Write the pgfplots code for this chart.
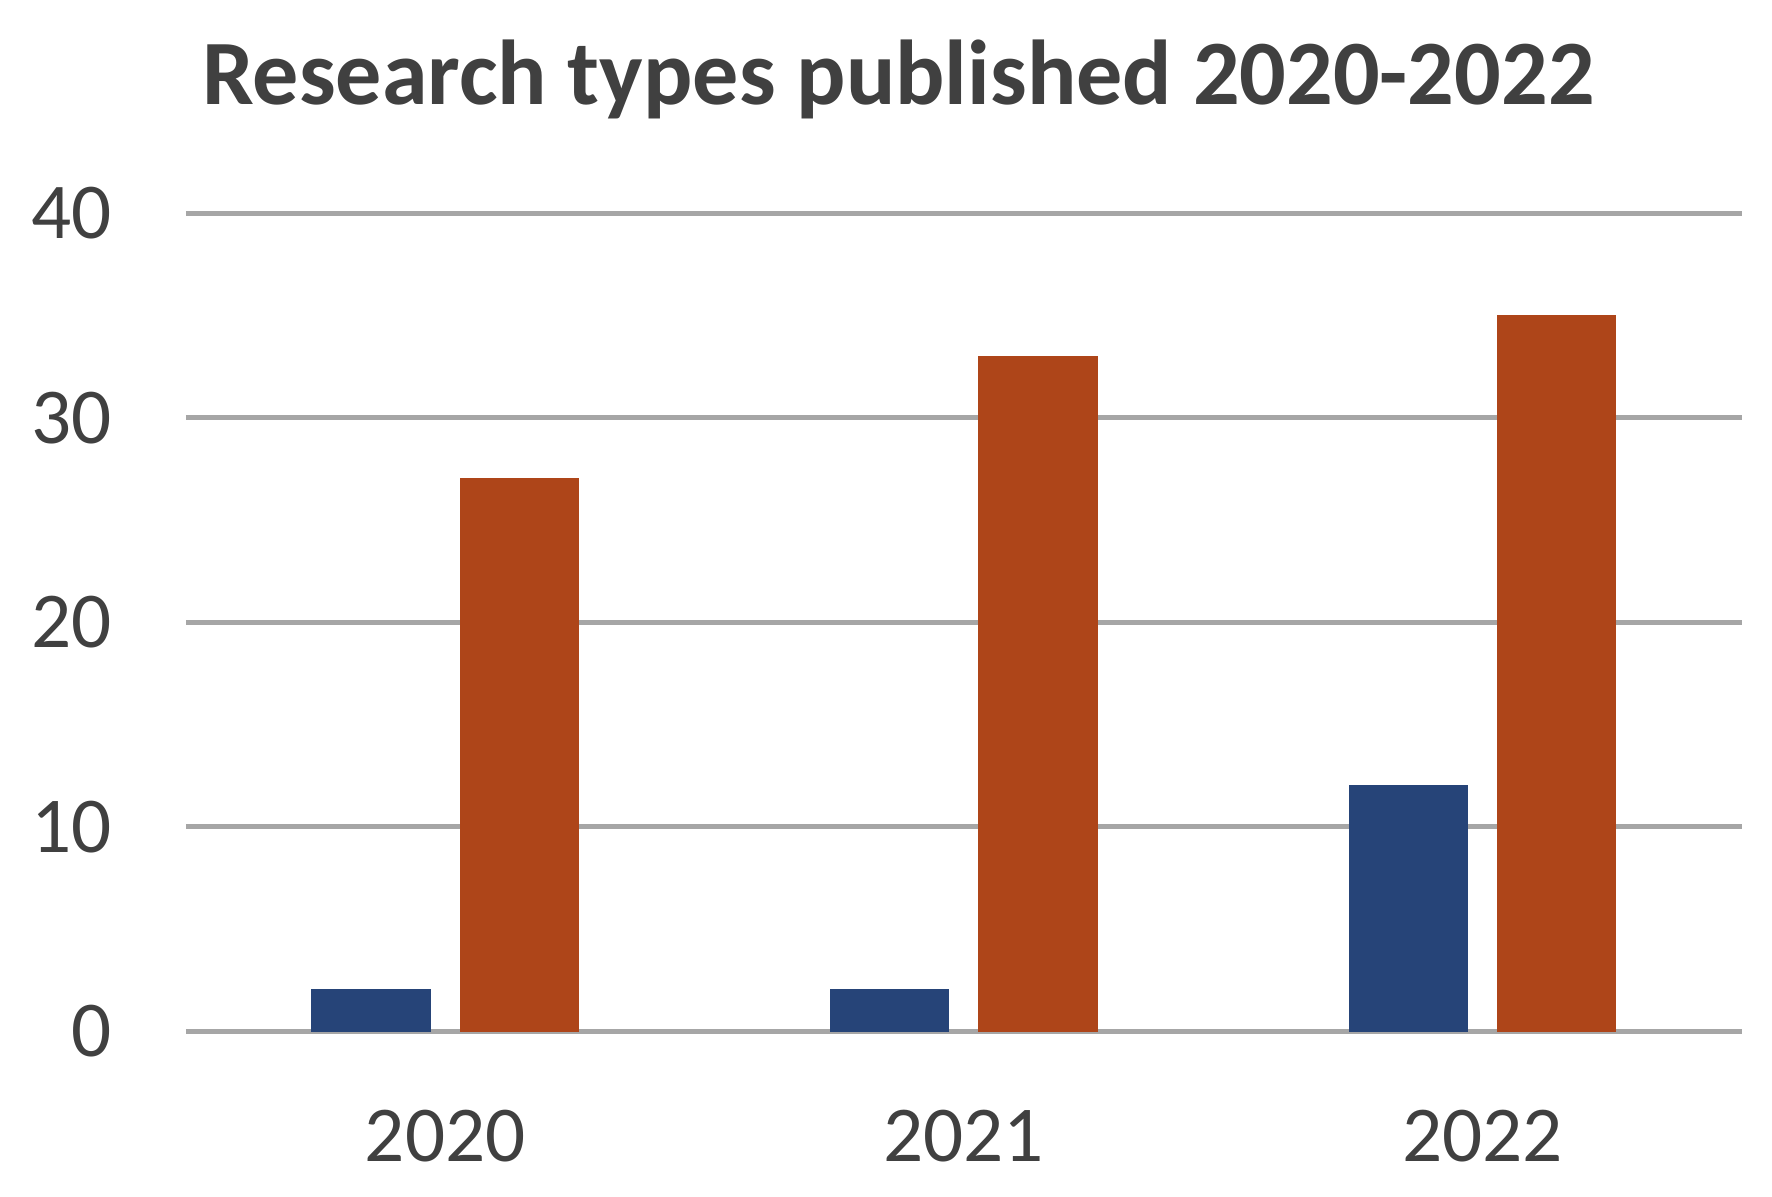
\documentclass[border=0pt]{standalone}
\usepackage{pgfplots}
\pgfplotsset{compat=1.18}
\usepackage{fontspec}
\setmainfont{Carlito}
\definecolor{barblue}{HTML}{264478}
\definecolor{barorange}{HTML}{AE4519}
\definecolor{txtgray}{HTML}{404040}
\definecolor{gridgray}{HTML}{A6A6A6}
\begin{document}
\begin{tikzpicture}
\path[use as bounding box] (0,0) rectangle (425.28pt,287.04pt);
\begin{axis}[
  at={(44.6pt,39.6pt)}, anchor=south west,
  scale only axis, width=373.4pt, height=196.2pt,
  ymin=0, ymax=40, xmin=-0.5, xmax=2.5,
  axis line style={draw=none},
  ytick={0,10,20,30,40},
  xtick={0,1,2}, xticklabels={2020,2021,2022},
  major tick length=0pt,
  ymajorgrids, major grid style={color=gridgray, line width=1.2pt},
  /pgf/number format/assume math mode=true,
  tick label style={font=\fontsize{19}{21}\selectfont, text=txtgray},
  yticklabel style={anchor=east, inner sep=0pt, xshift=-17.6pt},
  xticklabel style={anchor=base, inner sep=0pt, yshift=-31.2pt},
  ybar, bar width=0.227,
]
\addplot[fill=barblue, draw=barblue, bar shift=-0.143] coordinates {(0,2) (1,2) (2,12)};
\addplot[fill=barorange, draw=barorange, bar shift=0.143] coordinates {(0,27) (1,33) (2,35)};
\end{axis}
\node[anchor=base, inner sep=0pt, text=txtgray, font=\fontsize{22.1}{26}\selectfont\bfseries] at (215.6pt,262pt) {Research types published 2020-2022};
\end{tikzpicture}
\end{document}
